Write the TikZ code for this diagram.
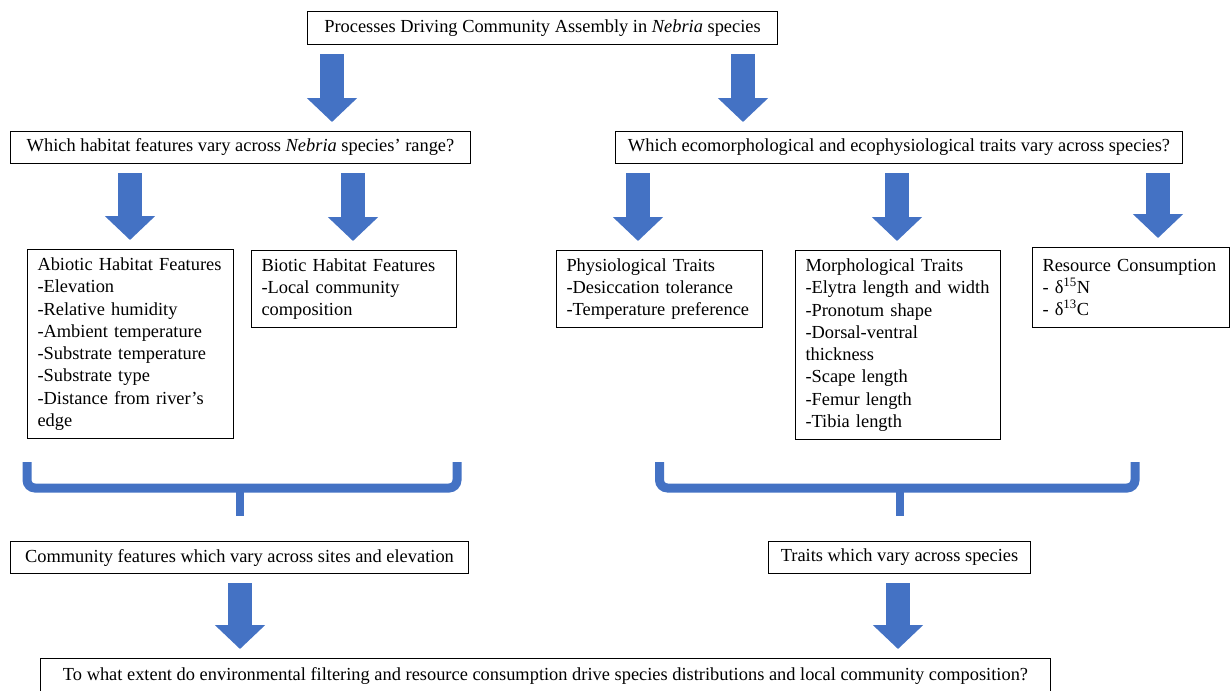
\documentclass[tikz,border=0pt]{standalone}
\usepackage{fontspec}
\setmainfont{Liberation Serif}      % Times-like face
\usetikzlibrary{arrows.meta}        % big block arrow tips
\definecolor{wordblue}{RGB}{68,114,196}
\newcommand\boxfont{\fontsize{13.8pt}{16.7pt}\selectfont}

\begin{document}
\begin{tikzpicture}[x=0.75pt,y=-0.75pt,
  box/.style={draw,line width=0.75pt,anchor=north west,inner ysep=0pt,font=\boxfont},
  listbox/.style={box,align=left,inner xsep=7.5pt},
  linebox/.style={box,inner xsep=0pt,minimum height=24pt},
  bigarrow/.style={draw=wordblue,line width=18pt,-{Triangle[width=36.75pt,length=18pt]},shorten <=6.75pt,shorten >=6.75pt},
  bracket/.style={draw=wordblue,line width=6.75pt,rounded corners=6pt}]
\useasboundingbox (0,0) rectangle (1230,690);
\clip (0,0) rectangle (1230,690);
\node[linebox,minimum width=352.5pt,minimum height=24.75pt](top)at(307,11){Processes Driving Community Assembly in \textit{Nebria} species};
\node[linebox,minimum width=345pt](habq)at(10,131){Which habitat features vary across \textit{Nebria} species’ range?};
\node[linebox,minimum width=425.25pt](traitq)at(615,131){Which ecomorphological and ecophysiological traits vary across species?};
\node[listbox,text width=139.5pt,minimum height=141.75pt](abiotic)at(27,249){Abiotic Habitat Features\\-Elevation\\-Relative humidity\\-Ambient temperature\\-Substrate temperature\\-Substrate type\\-Distance from river’s\\edge};
\node[listbox,text width=138.75pt,minimum height=57.75pt](biotic)at(251,250){Biotic Habitat Features\\-Local community\\composition};
\node[listbox,text width=139.5pt,minimum height=57.75pt](physio)at(556,250){Physiological Traits\\-Desiccation tolerance\\-Temperature preference};
\node[listbox,text width=138.75pt,minimum height=141.75pt](morph)at(795,250){Morphological Traits\\-Elytra length and width\\-Pronotum shape\\-Dorsal-ventral\\thickness\\-Scape length\\-Femur length\\-Tibia length};
\node[listbox,text width=132.75pt,minimum height=60pt](resource)at(1032,247){Resource Consumption\\- δ\textsuperscript{15}N\\- δ\textsuperscript{13}C};
\node[linebox,minimum width=343.5pt](community)at(10,541){Community features which vary across sites and elevation};
\node[linebox,minimum width=196.5pt](traitsv)at(768,541){Traits which vary across species};
\node[linebox,minimum width=757.5pt,minimum height=25.5pt](final)at(40,658){To what extent do environmental filtering and resource consumption drive species distributions and local community composition?};
\foreach \src/\dst/\ax in {top/habq/332,top/traitq/743,habq/abiotic/130,habq/biotic/353,traitq/physio/638,traitq/morph/897,traitq/resource/1158,community/final/240,traitsv/final/898}
  \draw[bigarrow](\ax,0 |- \src.south)--(\ax,0 |- \dst.north);
\draw[bracket](abiotic.west |- 0,462)--(abiotic.west |- 0,488)--(biotic.east |- 0,488)--(biotic.east |- 0,462);
\draw[wordblue,line width=6pt](community.north |- 0,488)--(community.north |- 0,516);
\draw[bracket](physio.center |- 0,462)--(physio.center |- 0,488)--([xshift=3pt]resource.center |- 0,488)--([xshift=3pt]resource.center |- 0,462);
\draw[wordblue,line width=6pt](traitsv.north |- 0,488)--(traitsv.north |- 0,516);
\end{tikzpicture}
\end{document}
